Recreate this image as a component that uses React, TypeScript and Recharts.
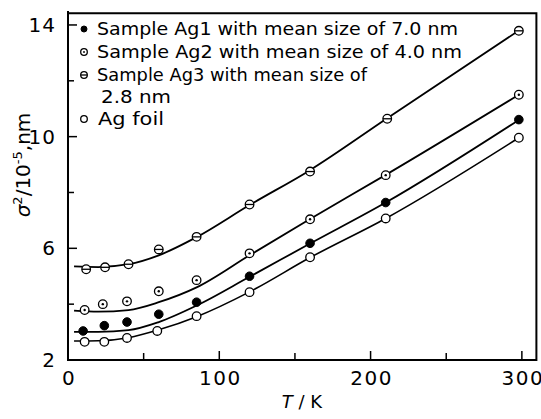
import React from 'react';
import { ComposedChart, Line, Scatter, XAxis, YAxis, ReferenceArea } from 'recharts';

// Fitted curves
const curveT = [4, 20, 40, 60, 85, 120, 160, 210, 298];
const ag1Fit = [3.01, 3.01, 3.07, 3.36, 3.95, 4.98, 6.17, 7.64, 10.6];
const ag2Fit = [3.77, 3.73, 3.79, 4.07, 4.6, 5.75, 7.05, 8.63, 11.5];
const ag3Fit = [5.35, 5.33, 5.43, 5.75, 6.4, 7.55, 8.8, 10.62, 13.8];
const foilFit = [2.68, 2.69, 2.8, 3.08, 3.55, 4.44, 5.67, 7.07, 9.96];

// Measured points
const ag1T = [10, 24, 39, 60, 85, 120, 160, 210, 298];
const ag1Values = [3.04, 3.23, 3.36, 3.64, 4.07, 5.0, 6.18, 7.64, 10.61];
const ag2T = [11, 23, 39, 60, 85, 120, 160, 210, 298];
const ag2Values = [3.79, 4.0, 4.1, 4.46, 4.86, 5.82, 7.04, 8.62, 11.5];
const ag3T = [12, 24.5, 40, 60, 85, 120, 160, 211, 298];
const ag3Values = [5.25, 5.32, 5.43, 5.96, 6.41, 7.57, 8.75, 10.64, 13.79];
const foilT = [11, 24, 39, 59, 85, 120, 160, 210, 298];
const foilValues = [2.65, 2.65, 2.79, 3.04, 3.57, 4.43, 5.68, 7.07, 9.96];

const xTicks = [0, 50, 100, 150, 200, 250, 300];
const xLabels = [0, 100, 200, 300];
const yTicks = [2, 4, 6, 8, 10, 12, 14];
const yLabels = [2, 6, 10, 14];
const xMax = 310;
const yMin = 2;
const yMax = 14.5;
const frameTop = 14.42;
const frameRight = 309.6;

const legendRows = [
  { kind: 'ag1', text: 'Sample Ag1 with mean size of 7.0 nm' },
  { kind: 'ag2', text: 'Sample Ag2 with mean size of 4.0 nm' },
  { kind: 'ag3', text: 'Sample Ag3 with mean size of' },
  { kind: 'none', text: '2.8 nm' },
  { kind: 'foil', text: 'Ag foil' },
];

const fitData = curveT.map((T, i) => ({
  T,
  ag1: ag1Fit[i],
  ag2: ag2Fit[i],
  ag3: ag3Fit[i],
  foil: foilFit[i],
}));
const toPts = (ts: number[], vs: number[]) => ts.map((T, i) => ({ T, v: vs[i] }));
const ag1Pts = toPts(ag1T, ag1Values);
const ag2Pts = toPts(ag2T, ag2Values);
const ag3Pts = toPts(ag3T, ag3Values);
const foilPts = toPts(foilT, foilValues);

const FONT = '"DejaVu Sans", sans-serif';

function Marker({ kind, cx, cy, r }: { kind: string; cx: number; cy: number; r: number }) {
  if (kind === 'ag1') return <circle cx={cx} cy={cy} r={r} fill="#000" stroke="#000" strokeWidth={1} />;
  if (kind === 'foil') return <circle cx={cx} cy={cy} r={r} fill="#fff" stroke="#000" strokeWidth={1.3} />;
  if (kind === 'ag2')
    return (
      <g>
        <circle cx={cx} cy={cy} r={r} fill="#fff" stroke="#000" strokeWidth={1.3} />
        <circle cx={cx} cy={cy} r={r * 0.28} fill="#000" />
      </g>
    );
  if (kind === 'ag3')
    return (
      <g>
        <circle cx={cx} cy={cy} r={r} fill="#fff" stroke="#000" strokeWidth={1.3} />
        <line x1={cx - r} x2={cx + r} y1={cy} y2={cy} stroke="#000" strokeWidth={1.3} />
      </g>
    );
  return null;
}

const shapeFor = (kind: string) => (props: any) => (
  <Marker kind={kind} cx={props.cx} cy={props.cy} r={4.3} />
);

const YTick = (props: any) => {
  const { x, y, payload } = props;
  const major = yLabels.includes(payload.value);
  return (
    <g>
      <line x1={x} x2={x + (major ? 9 : 6)} y1={y} y2={y} stroke="#000" strokeWidth={1.5} />
      {major && (
        <text x={x - 12} y={y + 7} textAnchor="end" fontSize={20} fontFamily={FONT} fill="#000" letterSpacing={1}>
          {payload.value}
        </text>
      )}
    </g>
  );
};

const XTick = (props: any) => {
  const { x, y, payload } = props;
  const major = xLabels.includes(payload.value);
  return (
    <g>
      <line x1={x} x2={x} y1={y} y2={y - (major ? 9 : 7)} stroke="#000" strokeWidth={1.5} />
      {major && (
        <text x={x + 1} y={y + 25} textAnchor="middle" fontSize={20} fontFamily={FONT} fill="#000" letterSpacing={1.5}>
          {payload.value}
        </text>
      )}
    </g>
  );
};

export default function App() {
  const W = 541;
  const H = 419;
  const rowY = [29, 52, 75, 97, 119];
  const rowW = [361, 365, 270, 70, 66];
  const rowX = [97, 97, 97, 101, 98];
  return (
    <div style={{ position: 'absolute', left: 0, top: 0, width: W, height: H, background: '#fff' }}>
      <ComposedChart width={W} height={H} margin={{ top: 11, right: 4, bottom: 0, left: 0 }}>
        <XAxis
          dataKey="T"
          type="number"
          domain={[0, xMax]}
          ticks={xTicks}
          allowDataOverflow
          tick={<XTick />}
          tickLine={false}
          tickSize={0}
          tickMargin={0}
          axisLine={{ stroke: '#000', strokeWidth: 2 }}
          height={59}
          interval={0}
        />
        <YAxis
          type="number"
          domain={[yMin, yMax]}
          ticks={yTicks}
          allowDataOverflow
          tick={<YTick />}
          tickLine={false}
          tickSize={0}
          tickMargin={0}
          axisLine={{ stroke: '#000', strokeWidth: 2 }}
          width={68}
          interval={0}
        />
        <ReferenceArea
          x1={0}
          x2={frameRight}
          y1={yMin}
          y2={frameTop}
          fill="none"
          fillOpacity={0}
          stroke="#000"
          strokeWidth={2}
          strokeOpacity={1}
          ifOverflow="visible"
        />
        <Line data={fitData} dataKey="ag3" type="monotone" stroke="#000" strokeWidth={1.8} dot={false} isAnimationActive={false} />
        <Line data={fitData} dataKey="ag2" type="monotone" stroke="#000" strokeWidth={1.8} dot={false} isAnimationActive={false} />
        <Line data={fitData} dataKey="ag1" type="monotone" stroke="#000" strokeWidth={1.8} dot={false} isAnimationActive={false} />
        <Line data={fitData} dataKey="foil" type="monotone" stroke="#000" strokeWidth={1.6} dot={false} isAnimationActive={false} />
        <Scatter data={ag3Pts} dataKey="v" shape={shapeFor('ag3')} isAnimationActive={false} />
        <Scatter data={ag2Pts} dataKey="v" shape={shapeFor('ag2')} isAnimationActive={false} />
        <Scatter data={ag1Pts} dataKey="v" shape={shapeFor('ag1')} isAnimationActive={false} />
        <Scatter data={foilPts} dataKey="v" shape={shapeFor('foil')} isAnimationActive={false} />
      </ComposedChart>
      <svg width={W} height={H} style={{ position: 'absolute', left: 0, top: 0, pointerEvents: 'none' }}>
        {legendRows.map((row, i) => (
          <g key={i}>
            {row.kind !== 'none' && (
              <Marker kind={row.kind} cx={84} cy={rowY[i]} r={row.kind === 'ag1' ? 3 : 3.3} />
            )}
            <text
              x={rowX[i]}
              y={rowY[i] + 6}
              fontSize={17}
              fontFamily={FONT}
              fill="#000"
              textLength={rowW[i]}
              lengthAdjust="spacingAndGlyphs"
            >
              {row.text}
            </text>
          </g>
        ))}
        <text transform="translate(30,165) rotate(-90)" textAnchor="middle" fontSize={20} fontFamily={FONT} fill="#000">
          <tspan fontStyle="italic">σ</tspan>
          <tspan dy={-8} fontSize={13}>2</tspan>
          <tspan dy={8}>/10</tspan>
          <tspan dy={-8} fontSize={13}>-5</tspan>
          <tspan dy={8}>,nm</tspan>
        </text>
        <text x={302} y={408} textAnchor="middle" fontSize={18} fontFamily={FONT} fill="#000">
          <tspan fontStyle="italic">T</tspan>
          <tspan> / K</tspan>
        </text>
      </svg>
    </div>
  );
}
